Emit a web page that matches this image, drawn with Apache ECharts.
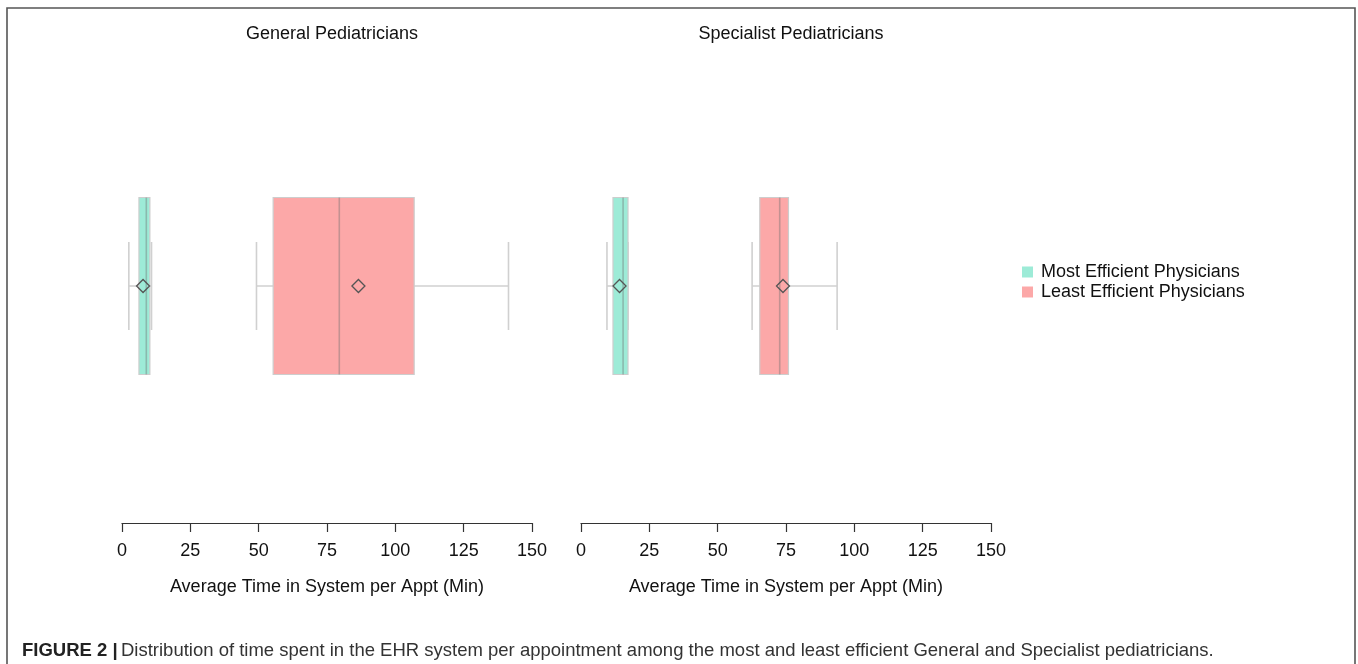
<!DOCTYPE html>
<html>
<head>
<meta charset="utf-8">
<script src="https://cdn.jsdelivr.net/npm/echarts@6/dist/echarts.min.js"></script>
<style>
html,body{margin:0;padding:0;background:#fff;}
#chart{width:1358px;height:664px;}
</style>
</head>
<body>
<div id="chart"></div>
<script>
// ---- data ----
const panels = ['General Pediatricians', 'Specialist Pediatricians'];
const groups = ['Most Efficient Physicians', 'Least Efficient Physicians'];
const ticks = [0, 25, 50, 75, 100, 125, 150];
// [min, q1, median, q3, max]
const generalStats = [[2.5, 6.2, 8.9, 10.2, 10.8], [49.2, 55.3, 79.5, 106.9, 141.4]];
const generalMeans = [7.7, 86.5];
const specialistStats = [[9.5, 11.7, 15.4, 17.2, 17.2], [62.6, 65.4, 72.7, 75.9, 93.7]];
const specialistMeans = [14.1, 73.9];
const axisName = 'Average Time in System per Appt (Min)';
const caption = 'Distribution of time spent in the EHR system per appointment among the most and least efficient General and Specialist pediatricians.';

// ---- styles ----
const FONT = "'Liberation Sans', Arial, sans-serif";
const fills = ['#9DEBD7', '#FCA8A8'];
const BOX_H = 177;
const CAP_H = 88;

const statsByPanel = [generalStats, specialistStats];
const meansByPanel = [generalMeans, specialistMeans];

function renderBox(params, api) {
  const mn = api.value(0), q1 = api.value(1), md = api.value(2), q3 = api.value(3), mx = api.value(4), mean = api.value(5);
  const p = (v) => api.coord([v, 0]);
  const cy = p(md)[1];
  const xMin = p(mn)[0], xQ1 = p(q1)[0], xMd = p(md)[0], xQ3 = p(q3)[0], xMx = p(mx)[0], xMean = p(mean)[0];
  const color = api.visual('color');
  const whisk = {stroke: 'rgb(208,208,208)', lineWidth: 1.6};
  const d = 6.5;
  return {
    type: 'group',
    children: [
      {type: 'line', shape: {x1: xMin, y1: cy, x2: xMx, y2: cy}, style: whisk},
      {type: 'line', shape: {x1: xMin, y1: cy - CAP_H / 2, x2: xMin, y2: cy + CAP_H / 2}, style: whisk},
      {type: 'line', shape: {x1: xMx, y1: cy - CAP_H / 2, x2: xMx, y2: cy + CAP_H / 2}, style: whisk},
      {type: 'rect', shape: {x: xQ1, y: cy - BOX_H / 2, width: xQ3 - xQ1, height: BOX_H},
        style: {fill: color, stroke: 'rgb(205,205,205)', lineWidth: 1.2}},
      {type: 'line', shape: {x1: xMd, y1: cy - BOX_H / 2, x2: xMd, y2: cy + BOX_H / 2},
        style: {stroke: 'rgba(110,110,110,0.4)', lineWidth: 1.6}},
      {type: 'polygon', shape: {points: [[xMean - d, cy], [xMean, cy - d], [xMean + d, cy], [xMean, cy + d]]},
        style: {fill: 'none', stroke: '#555', lineWidth: 1.3}}
    ]
  };
}

const grids = [
  {left: 122, width: 410, top: 49, height: 474},
  {left: 581, width: 410, top: 49, height: 474}
];

const xAxes = grids.map((g, i) => ({
  type: 'value', gridIndex: i, min: ticks[0], max: ticks[ticks.length - 1], interval: 25,
  position: 'bottom',
  axisLine: {show: true, lineStyle: {color: '#333', width: 1.2}},
  axisTick: {show: true, length: 9, lineStyle: {color: '#333', width: 1.2}},
  axisLabel: {color: '#111', fontSize: 18, fontFamily: FONT, margin: 19},
  splitLine: {show: false},
  name: axisName, nameLocation: 'middle', nameGap: 55,
  nameTextStyle: {color: '#111', fontSize: 18, fontFamily: FONT}
}));
const yAxes = grids.map((g, i) => ({
  type: 'category', gridIndex: i, data: [panels[i]], show: false
}));

const series = [];
for (let pi = 0; pi < 2; pi++) {
  for (let gi = 0; gi < 2; gi++) {
    const s = statsByPanel[pi][gi];
    series.push({
      type: 'custom', name: groups[gi], xAxisIndex: pi, yAxisIndex: pi,
      itemStyle: {color: fills[gi]},
      encode: {x: [0, 1, 2, 3, 4, 5], y: 6},
      data: [[s[0], s[1], s[2], s[3], s[4], meansByPanel[pi][gi], 0]],
      renderItem: renderBox
    });
  }
}

const chart = echarts.init(document.getElementById('chart'), null, {renderer: 'canvas'});
chart.setOption({
  animation: false,
  backgroundColor: '#fff',
  grid: grids,
  xAxis: xAxes,
  yAxis: yAxes,
  title: panels.map((t, i) => ({
    text: t, left: grids[i].left + grids[i].width / 2, top: 20, textAlign: 'center',
    textStyle: {color: '#111', fontSize: 18, fontWeight: 'normal', fontFamily: FONT}
  })),
  legend: {
    data: groups, orient: 'vertical', left: 1017, top: 258, icon: 'rect',
    itemWidth: 11, itemHeight: 11, itemGap: 2,
    textStyle: {color: '#111', fontSize: 18, fontFamily: FONT, padding: [0, 0, 0, 3]}
  },
  series: series,
  graphic: [
    {type: 'rect', shape: {x: 7, y: 8, width: 1348, height: 700}, style: {fill: 'none', stroke: '#555', lineWidth: 1.6}, silent: true},
    {type: 'text', left: 22, top: 641, style: {
      text: '{b|FIGURE 2 |} {n|' + caption + '}',
      rich: {
        b: {fontWeight: 'bold', fontSize: 18.5, fontFamily: FONT, fill: '#222'},
        n: {fontSize: 18.5, fontFamily: FONT, fill: '#333'}
      }
    }}
  ]
});
</script>
</body>
</html>
